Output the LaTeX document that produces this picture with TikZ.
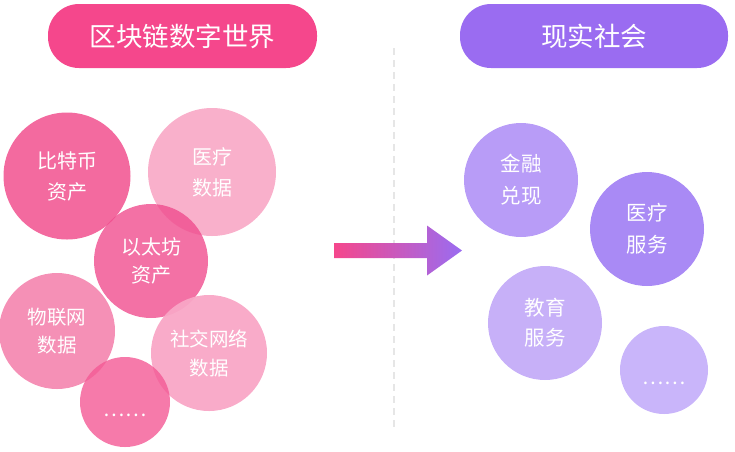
\documentclass[tikz,border=0pt]{standalone}
\usepackage{fontspec}
\setmainfont{Noto Sans CJK SC}
\usepackage{tikz}
\usetikzlibrary{positioning,calc}
\definecolor{chainpink}{HTML}{F5478C}
\definecolor{realpurple}{HTML}{9A6CF1}
\definecolor{btcpink}{HTML}{F36A9F}
\definecolor{medpink}{HTML}{F9B0CB}
\definecolor{ethpink}{HTML}{F04D8E}
\definecolor{iotpink}{HTML}{F590B6}
\definecolor{snspink}{HTML}{F9A6C6}
\definecolor{morepink}{HTML}{F45995}
\definecolor{finpurple}{HTML}{B89CF7}
\definecolor{medpurple}{HTML}{A98AF5}
\definecolor{edupurple}{HTML}{C7B0F8}
\definecolor{morepurple}{HTML}{C9B5FA}
\definecolor{sepgray}{HTML}{E6E6E6}
\newcommand{\lowdots}{\raisebox{-14pt}[0pt][0pt]{……}}

\begin{document}
\begin{tikzpicture}[x=1pt,y=-1pt,
		banner/.style={rounded corners=31pt,minimum width=269pt,minimum height=64pt,
			text=white,font=\fontsize{26.5}{30}\selectfont},
		bubble/.style={circle,inner sep=0pt,minimum size=#1,text=white,align=center,
			font=\fontsize{20}{31}\selectfont},
		bubble/.default=114pt
		]
		\useasboundingbox (0,0) rectangle (735,451);
		% banners
		\node[banner,fill=chainpink] (chain) at (182.5,36) {区块链数字世界};
		\node[banner,fill=realpurple,minimum width=268pt] (real) at (594,36) {现实社会};
		% separator
		\draw[sepgray,line width=1.5pt,dash pattern=on 7pt off 5pt] (394,48) -- (394,430);
		% left side: blockchain world
		\node[bubble=127pt,fill=btcpink] (btc) at (67,176) {比特币\\资产};
		\node[bubble=128pt,fill=medpink] (med) at (212,172) {医疗\\数据};
		\node[bubble,fill=ethpink,fill opacity=.8,text opacity=1,
			font=\fontsize{20}{28}\selectfont] (eth) at (151,261) {以太坊\\资产};
		\node[bubble=116pt,fill=iotpink,font=\fontsize{19.5}{28}\selectfont] (iot) at (57,331) {物联网\\数据};
		\node[bubble=116pt,fill=snspink,fill opacity=.95,text opacity=1,
			font=\fontsize{19.5}{29}\selectfont] (sns) at (209,353) {社交网络\\数据};
		\node[bubble=90pt,fill=morepink,fill opacity=.8,text opacity=1] (more) at (125,402) {\lowdots};
		% arrow
		\coordinate (arrtail) at (334,250.5);
		\coordinate (arrtip) at (462,250.5);
		\shade[left color=chainpink,right color=realpurple]
			($(arrtail)+(0,-7.5)$) -- ($(arrtip)+(-35,-7.5)$) -- ($(arrtip)+(-35,-25)$) -- (arrtip)
			-- ($(arrtip)+(-35,25)$) -- ($(arrtip)+(-35,7.5)$) -- ($(arrtail)+(0,7.5)$) -- cycle;
		% right side: real society
		\node[bubble,fill=finpurple,font=\fontsize{20.5}{32}\selectfont] (fin) at (521,180) {金融\\兑现};
		\node[bubble,fill=medpurple,font=\fontsize{20.5}{32}\selectfont] (medsrv) at (647,229) {医疗\\服务};
		\node[bubble,fill=edupurple,font=\fontsize{20.5}{30}\selectfont] (edu) at (545,323) {教育\\服务};
		\node[bubble=88pt,fill=morepurple] (morereal) at (664,370) {\lowdots};
	\end{tikzpicture}
\end{document}
